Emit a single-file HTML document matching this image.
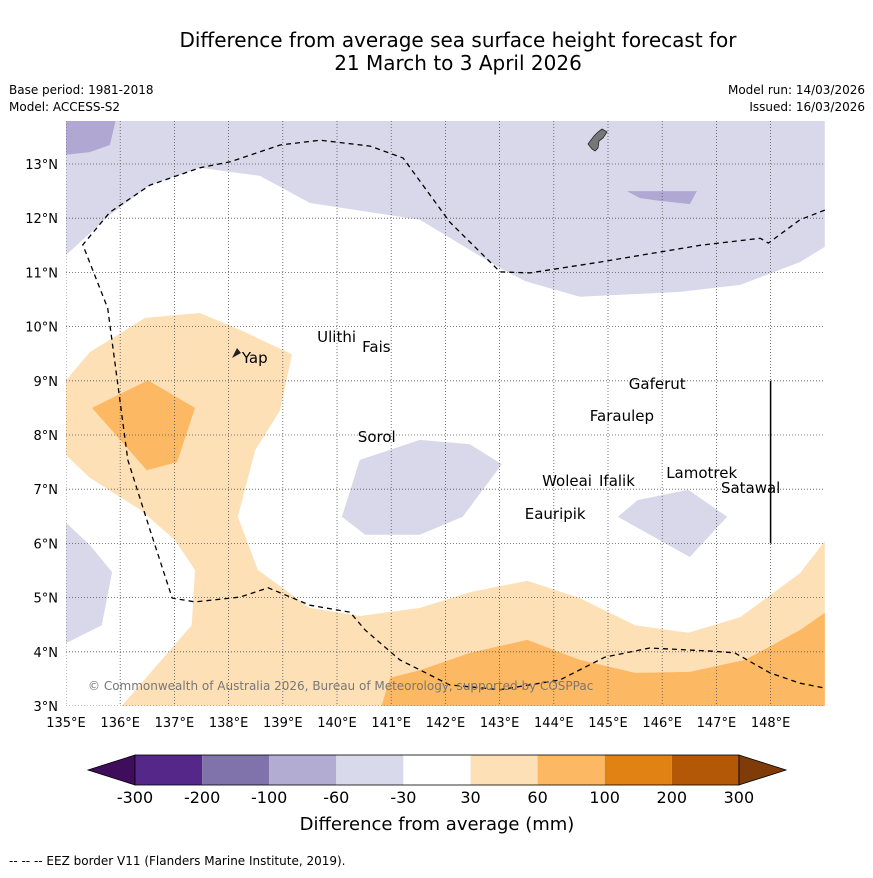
<!DOCTYPE html>
<html><head><meta charset="utf-8"><style>
body{margin:0;background:#fff;}
svg text{font-family:"DejaVu Sans","Liberation Sans",sans-serif;}
</style></head><body>
<svg width="873" height="873" viewBox="0 0 873 873" xmlns="http://www.w3.org/2000/svg">
<text x="458" y="47" font-size="20" text-anchor="middle">Difference from average sea surface height forecast for</text>
<text x="458" y="70" font-size="20" text-anchor="middle">21 March to 3 April 2026</text>
<text x="9" y="94" font-size="12">Base period: 1981-2018</text>
<text x="9" y="111" font-size="12">Model: ACCESS-S2</text>
<text x="865" y="94" font-size="12" text-anchor="end">Model run: 14/03/2026</text>
<text x="865" y="111" font-size="12" text-anchor="end">Issued: 16/03/2026</text>
<defs><clipPath id="mc"><rect x="66" y="121" width="759" height="585"/></clipPath></defs>
<g id="map" clip-path="url(#mc)"></g>
<g id="axes"></g>
<g id="cbar"></g>
<text x="437" y="830" font-size="18" text-anchor="middle">Difference from average (mm)</text>
<text x="9" y="865" font-size="12">--  --  -- EEZ border V11 (Flanders Marine Institute, 2019).</text>
</svg>
<script>
const NS="http://www.w3.org/2000/svg";
const lonMin=135, latMin=3, x0=66, y0=706, k=54.2;
const X=lon=>x0+(lon-lonMin)*k, Y=lat=>y0-(lat-latMin)*k;
function mk(tag,attrs,parent){const e=document.createElementNS(NS,tag);for(const a in attrs)e.setAttribute(a,attrs[a]);parent.appendChild(e);return e;}
const map=document.getElementById('map'), axes=document.getElementById('axes'), cbar=document.getElementById('cbar');

const purpleTop=[[135,13.9],[149,13.9],[149,11.47],[148.54,11.19],[147.44,10.77],[146.33,10.64],[144.48,10.55],[143.47,10.84],[143.01,11.08],[141.53,11.97],[139.5,12.28],[138.58,12.78],[137.47,12.93],[136.55,12.61],[135.81,12.06],[135,11.32]];
const purpleCorner=[[135,13.9],[135.94,13.9],[135.81,13.35],[135.44,13.22],[135,13.17]];
const purplePatchN=[[145.35,12.5],[146.64,12.5],[146.51,12.26],[145.96,12.32],[145.59,12.37]];
const orangeLight=[[135,9.01],[135.44,9.53],[136.46,10.16],[137.47,10.25],[138.21,9.94],[139.17,9.49],[138.95,8.46],[138.49,7.72],[138.17,6.49],[138.54,5.51],[139.5,4.81],[140.42,4.66],[141.53,4.81],[142.45,5.1],[143.51,5.31],[144.48,4.99],[145.5,4.49],[146.48,4.35],[147.44,4.64],[148.54,5.45],[149,6.04],[149,2.9],[135.94,2.9],[137.32,4.49],[137.38,5.51],[137.01,6.06],[136.37,6.62],[135.44,7.21],[135,7.63]];
const orangeInner=[[135.48,8.5],[136.51,9.01],[137.38,8.5],[137.05,7.5],[136.49,7.35]];
const orangeBottom=[[140.79,2.9],[140.98,3.52],[141.53,3.66],[142.45,3.98],[143.51,4.22],[144.48,3.85],[145.5,3.61],[146.51,3.63],[147.53,3.85],[148.54,4.4],[149,4.72],[149,2.9]];
const purpleCentral=[[140.42,7.54],[141.53,7.91],[142.45,7.83],[143.04,7.46],[142.32,6.49],[141.53,6.16],[140.52,6.16],[140.09,6.49]];
const purpleRight=[[145.18,6.49],[145.55,6.8],[146.48,6.99],[147.2,6.49],[146.51,5.75]];
const purpleLeft=[[135,6.38],[135.44,5.97],[135.85,5.47],[135.66,4.49],[135,4.16]];
const eez=[[149,12.15],[148.54,11.97],[147.96,11.54],[147.81,11.63],[146.7,11.5],[144.85,11.19],[143.56,10.99],[143.01,11.01],[142.08,11.93],[141.22,13.11],[140.61,13.33],[139.69,13.44],[138.95,13.35],[138.03,13.04],[137.47,12.93],[136.55,12.61],[135.81,12.11],[135.31,11.51],[135.77,10.34],[136.14,7.54],[136.55,6.25],[136.96,4.99],[137.38,4.92],[138.21,5.01],[138.73,5.18],[139.5,4.86],[140.24,4.73],[140.52,4.4],[141.16,3.85],[142.08,3.39],[143.01,3.3],[144.11,3.48],[144.94,3.9],[145.77,4.07],[146.97,4.01],[147.34,3.98],[147.99,3.61],[148.54,3.42],[149,3.33]];
const islandNames=["Ulithi","Fais","Yap","Gaferut","Faraulep","Sorol","Woleai","Ifalik","Lamotrek","Satawal","Eauripik"];
const islandLon=[139.56,140.39,138.17,145.31,144.59,140.31,143.71,144.76,146.0,147.01,143.39];
const islandLat=[9.81,9.62,9.42,8.94,8.35,7.96,7.15,7.15,7.30,7.02,6.54];
const lonTicks=[135,136,137,138,139,140,141,142,143,144,145,146,147,148];
const latTicks=[3,4,5,6,7,8,9,10,11,12,13];
const cbLabels=["-300","-200","-100","-60","-30","30","60","100","200","300"];
const cbColors=["#542788","#8073ac","#b2abd2","#d8daeb","#ffffff","#fee0b6","#fdb863","#e08214","#b35806"];

const pts=a=>a.map(p=>X(p[0]).toFixed(1)+","+Y(p[1]).toFixed(1)).join(" ");
function poly(a,fill,name){const e=mk('polygon',{points:pts(a),fill:fill},map);

}
poly(purpleTop,"#d8d8ea","contour-purple-north");
poly(purpleCorner,"#b0a8d2","contour-purple-corner");
poly(purplePatchN,"#b0a8d2","contour-purple-patch");
poly(orangeLight,"#fee0b6","contour-orange-light");
poly(orangeInner,"#fdb863","contour-orange-inner");
poly(orangeBottom,"#fdb863","contour-orange-south");
poly(purpleCentral,"#d8d8ea","contour-purple-central");
poly(purpleRight,"#d8d8ea","contour-purple-east");
poly(purpleLeft,"#d8d8ea","contour-purple-west");
lonTicks.forEach(l=>{const e=mk('line',{x1:X(l),x2:X(l),y1:121,y2:706,stroke:"#555","stroke-width":0.8,"stroke-dasharray":"1,2"},map);

});
latTicks.forEach(l=>{const e=mk('line',{x1:66,x2:825,y1:Y(l),y2:Y(l),stroke:"#555","stroke-width":0.8,"stroke-dasharray":"1,2"},map);

});
const guam=mk('path',{d:"M588,144 l6,-8 l4,-4 l4,-3 l5,3 l-4,6 l-4,3 l-1,7 l-3,3 l-3,-2 z",fill:"#777",stroke:"#222","stroke-width":0.8},map);


const yap=mk('path',{d:"M232,358 l5,-10 l4,5 z",fill:"#222"},map);


const eezL=mk('polyline',{points:pts(eez),fill:"none",stroke:"#000","stroke-width":1.3,"stroke-dasharray":"5,4"},map);


const vl=mk('line',{x1:X(148),x2:X(148),y1:Y(9),y2:Y(6),stroke:"#000","stroke-width":1.5},map);


islandNames.forEach((n,i)=>{const t=mk('text',{x:X(islandLon[i])+4,y:Y(islandLat[i])+5,"font-size":15},map);t.textContent=n;

});
const cp=mk('text',{x:88,y:690,"font-size":12,fill:"#777"},map);cp.textContent="© Commonwealth of Australia 2026, Bureau of Meteorology, supported by COSPPac";


lonTicks.forEach(l=>{const t=mk('text',{x:X(l),y:727,"font-size":13,"text-anchor":"middle"},axes);t.textContent=l+"°E";

});
latTicks.forEach(l=>{const t=mk('text',{x:58,y:Y(l)+5,"font-size":13,"text-anchor":"end"},axes);t.textContent=l+"°N";

});
const cx0=135, cw=67.1, cy=755, ch=30;
const tl=mk('polygon',{points:`${cx0},${cy} ${cx0},${cy+ch} 88,${cy+ch/2}`,fill:"#3f0d5c",stroke:"#000","stroke-width":0.8},cbar);


cbColors.forEach((c,i)=>{const r=mk('rect',{x:cx0+i*cw,y:cy,width:cw,height:ch,fill:c},cbar);

});
const ex=cx0+cbColors.length*cw;
const tr=mk('polygon',{points:`${ex},${cy} ${ex},${cy+ch} 786,${cy+ch/2}`,fill:"#7f3b08",stroke:"#000","stroke-width":0.8},cbar);


const fr=mk('rect',{x:cx0,y:cy,width:ex-cx0,height:ch,fill:"none",stroke:"#000","stroke-width":0.8},cbar);


cbLabels.forEach((s,i)=>{const t=mk('text',{x:cx0+i*cw,y:803,"font-size":16,"text-anchor":"middle"},cbar);t.textContent=s;

});
</script>
</body></html>
